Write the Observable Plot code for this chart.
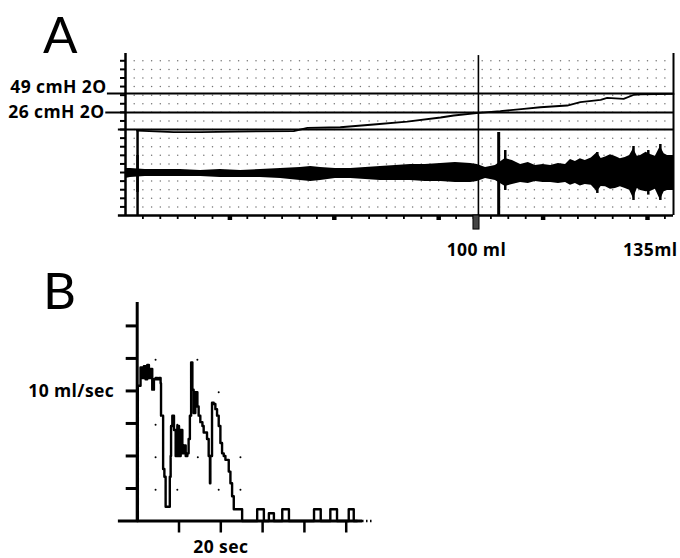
<!DOCTYPE html>
<html><head><meta charset="utf-8">
<script src="https://cdn.jsdelivr.net/npm/d3@7"></script>
<script src="https://cdn.jsdelivr.net/npm/@observablehq/plot@0.6"></script>
<style>
html,body{margin:0;padding:0;background:#fff;}
#wrap{position:relative;width:680px;height:558px;overflow:hidden;background:#fff;}
#a,#b{position:absolute;left:0;}
#letters{position:absolute;left:0;top:0;pointer-events:none;}
#letters text{font-family:Lato,"Open Sans",sans-serif;font-weight:400;font-size:51px;fill:#000;}
</style></head><body>
<div id="wrap">
<div id="a" style="top:0"></div>
<div id="b" style="top:280px"></div>
<svg id="letters" width="680" height="558"><text x="43" y="53">A</text><text x="43" y="309">B</text></svg>
</div>
<script>
// ---------- Panel A : filling cystometry (pressure + EMG) ----------
const pressureLevels = [49, 26];
const pressureLabels = ["49 cmH 2O", "26 cmH 2O"];
const channelLevels = [49, 26, 5.4];
const channelStart = [-3.3, -3.6, -1.3];
const volumeMarks = [64.4, 100];
const volumeLabels = ["100 ml", "135ml"];
const fillStartT = 2.2;
const voidSpikeT = 68.1;

const pressT = [2.1, 8.8, 13.7, 20.0, 30.7, 33.2, 39.2, 45.3, 51.4, 57.5, 59.9, 64.5, 68.4, 72.7, 75.7, 80.6, 83.0, 86.7, 87.9, 90.9, 92.8, 94.0, 100];
const pressV = [4.2, 2.2, 2.2, 3.0, 3.4, 7.5, 8.2, 11.5, 15.1, 20.0, 22.4, 25.7, 27.6, 30.5, 32.4, 34.5, 38.5, 41.4, 43.8, 42.6, 47.5, 48.0, 48.5];

const emgT = [0, 0.9, 3.6, 6.4, 10.0, 13.7, 17.3, 21.0, 24.6, 28.3, 31.9, 33.8, 35.6, 38.3, 41.1, 43.8, 46.5, 49.3, 52.0, 54.7, 57.5, 60.2, 63.0, 64.2, 65.7, 67.5, 69.3, 70.6, 72.1, 73.5, 74.8, 76.2, 77.6, 79.0, 80.3, 81.2, 82.1, 83.0, 83.9, 85.0, 86.1, 86.8, 87.6, 88.5, 89.4, 90.3, 91.2, 92.0, 92.7, 93.4, 94.0, 95.0, 95.8, 96.7, 97.6, 98.3, 98.9, 100];
const emgHi = [-41.8, -41.8, -43.0, -43.0, -43.0, -44.2, -43.0, -44.2, -43.0, -41.8, -40.6, -39.3, -40.6, -41.8, -41.8, -40.6, -39.3, -38.1, -36.9, -36.9, -35.7, -34.5, -35.7, -36.9, -40.6, -38.1, -29.7, -32.1, -36.9, -34.5, -38.1, -36.9, -38.1, -35.7, -36.9, -31.0, -33.3, -30.0, -32.1, -29.0, -22.4, -29.7, -28.0, -25.0, -27.2, -30.0, -28.5, -26.0, -18.0, -27.0, -26.0, -22.0, -24.8, -27.0, -15.0, -24.0, -26.0, -26.0];
const emgLo = [-53.9, -52.7, -51.5, -51.5, -51.5, -51.5, -52.7, -52.7, -52.7, -53.9, -56.3, -57.5, -56.3, -53.9, -53.9, -55.1, -56.3, -56.3, -56.3, -57.5, -57.5, -58.7, -58.7, -57.5, -53.9, -56.3, -63.6, -61.1, -58.7, -59.9, -57.5, -58.7, -58.7, -60.0, -58.7, -62.0, -59.9, -63.0, -61.1, -62.0, -70.0, -63.6, -64.0, -67.0, -66.0, -64.0, -66.0, -68.0, -78.0, -66.0, -68.4, -70.0, -69.6, -67.0, -80.0, -70.0, -68.4, -68.4];

const spikeT = [2.2, 69.3, 86.1, 92.7, 95.4, 97.6];
const spikeHi = [-26.0, -20.0, -22.4, -15.1, -20.0, -12.7];
const spikeLo = [-70.8, -68.4, -72.0, -80.5, -74.0, -80.5];

// ---------- Panel B : uroflow ----------
const flowT = [0, 0.15, 0.4, 0.8, 1.2, 1.6, 2.0, 2.4, 2.8, 3.2,
  3.6, 4.0, 4.4, 4.8, 5.2, 5.6, 5.7, 6.2, 6.5, 6.8,
  7.8, 8.0, 8.1, 8.4, 8.8, 9.2, 9.6, 10.0, 10.4, 10.8,
  11.1, 11.6, 12.0, 12.3, 12.6, 12.9, 13.2, 13.5, 13.9, 14.4,
  14.7, 15.1, 15.6, 15.9, 16.7, 17.1, 17.4, 17.5, 17.9, 18.3,
  18.7, 19.1, 19.5, 19.9, 20.3, 20.7, 21.1, 21.9, 22.3, 22.7,
  23.1, 25.1, 28.7, 30.3, 31.5, 32.7, 34.7, 36.3, 42.3, 43.9,
  46.2, 47.8, 50.6, 51.8, 52.6];
const flowV = [0, 10.4, 10.4, 11.8, 11.0, 11.9, 10.9, 12.0, 11.0, 11.7,
  10.1, 10.9, 11.0, 10.9, 11.0, 10.6, 8.1, 4.0, 3.4, 1.1,
  3.4, 5.0, 7.3, 8.1, 7.0, 5.0, 7.3, 5.0, 7.0, 5.2,
  5.8, 5.0, 5.2, 6.3, 8.1, 12.2, 10.1, 8.3, 9.9, 8.8,
  8.1, 7.6, 7.3, 6.8, 6.3, 5.0, 2.9, 5.0, 9.1, 9.0,
  8.6, 8.1, 7.3, 6.0, 5.2, 5.0, 4.7, 3.8, 2.9, 1.9,
  0.9, 0, 0.9, 0, 0.6, 0, 0.9, 0, 0.9, 0,
  0.9, 0, 0.9, 0, 0];
const flowTicks = [2.5, 5, 7.5, 10, 12.5, 15];
const flowTickLabels = {10: "10 ml/sec"};
const timeTicks = [10, 20, 30, 40, 50];
const timeTickLabels = {20: "20 sec"};
const paperDotT = [4.4, 14.4, 19.5, 4.4, 9.6, 4.4, 14.5, 24.7, 4.4, 9.6, 19.5, 24.7];
const paperDotV = [12.4, 12.4, 9.9, 7.4, 7.4, 4.9, 4.9, 4.9, 2.4, 2.4, 2.4, 2.4];

// ---------- build ----------
const FONT = "'Open Sans', Lato, sans-serif";
const textStyle = {fontFamily: FONT, fontSize: "17.5px", fontWeight: 700, letterSpacing: "0.4px", color: "#000", background: "transparent", overflow: "visible"};

const A_YMIN = -98.7, A_YMAX = 97.5;
const paperDX = 1.5876, paperDY = 10.41;
const paperCols = d3.range(1, 63).map(k => k * paperDX);
const paperRows = d3.range(1, 19).map(j => A_YMIN + j * paperDY);
const paperGrid = d3.cross(paperCols, paperRows).map(([t, v]) => ({t, v}));
const bottomTicks = d3.range(1, 32).map(k => k * 2 * paperDX);
const heavyTicks = bottomTicks.filter((d, i) => (i + 1) % 6 === 0);

const press = pressT.map((t, i) => ({t, v: pressV[i]}));
const emg = emgT.map((t, i) => ({t, hi: emgHi[i], lo: emgLo[i]}));
const spikes = spikeT.map((t, i) => ({t, hi: spikeHi[i], lo: spikeLo[i]}));
const channels = channelLevels.map((v, i) => ({v, x1: channelStart[i]}));

const plotA = Plot.plot({
  width: 680, height: 280,
  marginLeft: 125, marginRight: 7, marginTop: 53, marginBottom: 65,
  x: {domain: [0, 100]},
  y: {domain: [A_YMIN, A_YMAX]},
  style: textStyle,
  marks: [
    Plot.dot(paperGrid, {x: "t", y: "v", r: 0.75, fill: "#000", fillOpacity: 0.55, stroke: null}),
    Plot.axisY({ticks: paperRows, tickSize: 5, tickFormat: () => "", strokeWidth: 2, label: null}),
    Plot.axisX({ticks: bottomTicks, tickSize: 4, tickFormat: () => "", strokeWidth: 1.8, label: null}),
    Plot.axisX({ticks: heavyTicks, tickSize: 5, tickFormat: () => "", strokeWidth: 4.5, label: null}),
    Plot.ruleX([0], {y1: A_YMIN, y2: A_YMAX, strokeWidth: 2.5}),
    Plot.ruleX([100], {y1: A_YMIN, y2: A_YMAX, strokeWidth: 2}),
    Plot.ruleY([A_YMIN], {x1: -1.3, x2: 100, strokeWidth: 2.5}),
    Plot.ruleY(channels, {y: "v", x1: "x1", x2: 100, strokeWidth: 2}),
    Plot.areaY(emg, {x: "t", y1: "lo", y2: "hi", fill: "#000"}),
    Plot.ruleX(spikes, {x: "t", y1: "lo", y2: "hi", strokeWidth: 2.5}),
    Plot.ruleX([fillStartT], {y1: A_YMIN, y2: 5.4, strokeWidth: 2.5}),
    Plot.ruleX([volumeMarks[0]], {y1: A_YMIN, y2: 95, strokeWidth: 1.6}),
    Plot.ruleX([voidSpikeT], {y1: A_YMIN, y2: 1.8, strokeWidth: 3}),
    Plot.rect([volumeMarks[0]], {x1: d => d - 0.9, x2: d => d + 0.2, y1: A_YMIN, y2: A_YMIN - 17, fill: "#444", stroke: "#000", strokeWidth: 1}),
    Plot.line(press, {x: "t", y: "v", strokeWidth: 1.8}),
    Plot.text([pressureLevels[0]], {x: 0, y: d => d, text: () => pressureLabels[0], textAnchor: "end", lineAnchor: "bottom", dx: -19, dy: -1}),
    Plot.text([pressureLevels[1]], {x: 0, y: d => d, text: () => pressureLabels[1], textAnchor: "end", lineAnchor: "middle", dx: -21}),
    Plot.text([volumeMarks[0]], {x: d => d, text: () => volumeLabels[0], frameAnchor: "bottom", lineAnchor: "bottom", dy: 40, dx: -2}),
    Plot.text([volumeMarks[1]], {x: d => d, text: () => volumeLabels[1], frameAnchor: "bottom", lineAnchor: "bottom", dy: 40, dx: 4, textAnchor: "end"})
  ]
});
document.getElementById("a").append(plotA);

const flow = flowT.map((t, i) => ({t, v: flowV[i]}));
const paperDots = paperDotT.map((t, i) => ({t, v: paperDotV[i]}));

const plotB = Plot.plot({
  width: 680, height: 278,
  marginLeft: 136.7, marginRight: 309.2, marginTop: 22, marginBottom: 37.5,
  x: {domain: [0, 56]},
  y: {domain: [0, 16.8]},
  style: textStyle,
  marks: [
    Plot.dot(paperDots, {x: "t", y: "v", r: 1, fill: "#000", stroke: null}),
    Plot.axisY({ticks: flowTicks, tickSize: 11, tickPadding: 12, tickFormat: d => flowTickLabels[d] || "", strokeWidth: 3, label: null}),
    Plot.axisX({ticks: timeTicks, tickSize: 12, tickPadding: 8, tickFormat: d => timeTickLabels[d] || "", strokeWidth: 2.5, label: null}),
    Plot.ruleX([0], {y1: 0, y2: 16.8, strokeWidth: 3}),
    Plot.ruleY([0], {x1: -4.5, x2: 53.9, strokeWidth: 3}),
    Plot.ruleY([0], {x1: 53.9, x2: 56.5, strokeWidth: 2.5, strokeDasharray: "1.5,2.5"}),
    Plot.line(flow, {x: "t", y: "v", curve: "step-after", strokeWidth: 2.4})
  ]
});
document.getElementById("b").append(plotB);
</script>
</body></html>
